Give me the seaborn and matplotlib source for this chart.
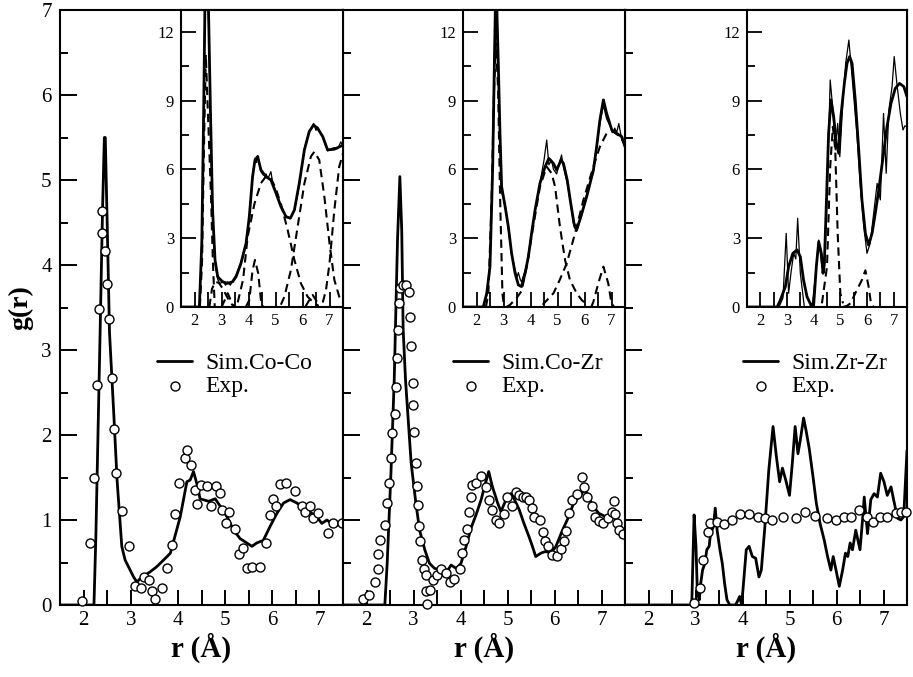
import numpy as np
import pandas as pd
import matplotlib
matplotlib.use("Agg")
import matplotlib.pyplot as plt
import seaborn as sns
from matplotlib.ticker import MultipleLocator

# ---- main panels : simulated lines and experimental circles ----
coco_sim_r = [1.5, 2.0, 2.22, 2.26, 2.29, 2.35, 2.40, 2.44, 2.46, 2.50, 2.55, 2.64, 2.71, 2.81, 2.88, 3.06,
              3.13, 3.2, 3.41, 3.55, 3.77, 3.84, 4.05, 4.19, 4.26, 4.33, 4.40, 4.47, 4.65, 4.79, 4.9, 5.04,
              5.18, 5.32, 5.46, 5.57, 5.67, 5.81, 5.95, 6.1, 6.24, 6.38, 6.52, 6.73, 6.94, 7.05, 7.16, 7.3, 7.5]
coco_sim_g = [0, 0, 0, 0.8, 1.6, 3.2, 4.6, 5.5, 5.5, 4.5, 3.2, 2.25, 1.47, 0.69, 0.53, 0.33,
              0.27, 0.31, 0.39, 0.45, 0.57, 0.61, 1.04, 1.45, 1.47, 1.57, 1.43, 1.25, 1.22, 1.25, 1.16, 1.04,
              0.88, 0.78, 0.73, 0.69, 0.73, 0.76, 0.92, 1.08, 1.20, 1.24, 1.2, 1.12, 1.04, 0.96, 1.0, 0.94, 0.95]
coco_exp_r = [1.96, 2.14, 2.23, 2.28, 2.32, 2.38, 2.40, 2.46, 2.50, 2.53, 2.6, 2.65, 2.68, 2.81, 2.97, 3.09,
              3.21, 3.29, 3.39, 3.46, 3.52, 3.67, 3.77, 3.87, 3.93, 4.03, 4.14, 4.2, 4.27, 4.37, 4.40, 4.49,
              4.61, 4.70, 4.80, 4.9, 4.94, 5.02, 5.09, 5.21, 5.30, 5.39, 5.47, 5.58, 5.74, 5.87, 5.95, 6.01,
              6.07, 6.17, 6.29, 6.48, 6.63, 6.7, 6.79, 6.87, 6.98, 7.19, 7.28, 7.47]
coco_exp_g = [0.05, 0.73, 1.49, 2.59, 3.48, 4.38, 4.63, 4.17, 3.78, 3.37, 2.67, 2.07, 1.55, 1.11, 0.69, 0.22,
              0.20, 0.33, 0.30, 0.16, 0.07, 0.20, 0.43, 0.71, 1.07, 1.43, 1.73, 1.82, 1.65, 1.35, 1.19, 1.41,
              1.40, 1.17, 1.40, 1.32, 1.12, 0.97, 1.10, 0.89, 0.60, 0.67, 0.43, 0.45, 0.45, 0.73, 1.06, 1.25,
              1.16, 1.42, 1.44, 1.34, 1.17, 1.09, 1.17, 1.02, 1.08, 0.85, 0.97, 0.97]

cozr_sim_r = [1.5, 2.0, 2.39, 2.44, 2.52, 2.59, 2.66, 2.71, 2.75, 2.78, 2.83, 2.95, 3.05, 3.13, 3.24, 3.34,
              3.45, 3.62, 3.73, 3.8, 3.91, 4.01, 4.12, 4.22, 4.33, 4.44, 4.51, 4.6, 4.68, 4.79, 4.86, 4.97,
              5.07, 5.14, 5.25, 5.35, 5.46, 5.53, 5.6, 5.71, 5.81, 5.92, 6.03, 6.17, 6.27, 6.41, 6.52, 6.63,
              6.7, 6.8, 6.94, 7.08, 7.23, 7.37, 7.5]
cozr_sim_g = [0, 0, 0, 0.49, 1.55, 2.65, 4.3, 5.04, 4.4, 3.24, 2.65, 1.67, 1.2, 0.88, 0.65, 0.49,
              0.43, 0.41, 0.41, 0.47, 0.43, 0.49, 0.69, 0.9, 1.06, 1.24, 1.39, 1.57, 1.39, 1.2, 1.1, 1.24,
              1.31, 1.25, 1.12, 0.96, 0.80, 0.69, 0.57, 0.61, 0.63, 0.61, 0.69, 0.88, 1.0, 1.2, 1.27, 1.35,
              1.31, 1.18, 1.08, 1.04, 1.06, 0.96, 0.84]
cozr_exp_r = [1.92, 2.06, 2.18, 2.25, 2.25, 2.28, 2.39, 2.44, 2.47, 2.52, 2.55, 2.6, 2.62, 2.65, 2.67, 2.69,
              2.71, 2.77, 2.83, 2.90, 2.93, 2.95, 2.99, 2.99, 3.02, 3.05, 3.07, 3.09, 3.12, 3.14, 3.19, 3.22,
              3.26, 3.27, 3.29, 3.36, 3.41, 3.5, 3.59, 3.69, 3.77, 3.87, 3.98, 4.03, 4.08, 4.13, 4.19, 4.22,
              4.24, 4.33, 4.44, 4.54, 4.61, 4.68, 4.75, 4.82, 4.93, 4.98, 5.09, 5.18, 5.25, 5.34, 5.39, 5.46,
              5.52, 5.57, 5.69, 5.76, 5.8, 5.87, 5.95, 6.06, 6.13, 6.2, 6.25, 6.31, 6.38, 6.48, 6.58, 6.63,
              6.7, 6.8, 6.87, 6.94, 7.03, 7.14, 7.23, 7.26, 7.28, 7.33, 7.37, 7.45]
cozr_exp_g = [0.07, 0.12, 0.27, 0.42, 0.6, 0.77, 0.94, 1.2, 1.44, 1.73, 2.02, 2.25, 2.56, 2.91, 3.24, 3.55,
              3.73, 3.76, 3.77, 3.68, 3.39, 3.05, 2.61, 2.35, 2.04, 1.67, 1.4, 1.18, 0.93, 0.75, 0.53, 0.42,
              0.35, 0.16, 0.01, 0.18, 0.3, 0.35, 0.42, 0.38, 0.27, 0.31, 0.42, 0.61, 0.76, 0.9, 1.1, 1.27,
              1.41, 1.44, 1.52, 1.39, 1.24, 1.12, 1.0, 0.97, 1.07, 1.27, 1.17, 1.33, 1.29, 1.27, 1.27, 1.24,
              1.14, 1.03, 1.0, 0.86, 0.75, 0.69, 0.59, 0.58, 0.66, 0.75, 0.87, 1.08, 1.24, 1.31, 1.51, 1.39,
              1.27, 1.16, 1.04, 0.99, 0.97, 1.02, 1.09, 1.22, 1.07, 0.97, 0.88, 0.84]

zrzr_sim_r = [1.5, 2.85, 2.92, 2.97, 3.01, 3.04, 3.08, 3.11, 3.15, 3.2, 3.24, 3.29, 3.32, 3.38, 3.42, 3.46,
              3.52, 3.57, 3.62, 3.67, 3.73, 3.85, 3.89, 3.94, 3.98, 4.01, 4.08, 4.14, 4.21, 4.28, 4.35, 4.4,
              4.47, 4.56, 4.65, 4.72, 4.79, 4.85, 4.92, 5.0, 5.06, 5.12, 5.18, 5.23, 5.3, 5.35, 5.42, 5.5,
              5.57, 5.65, 5.74, 5.81, 5.88, 5.93, 5.99, 6.06, 6.13, 6.19, 6.24, 6.29, 6.34, 6.41, 6.5, 6.56,
              6.59, 6.66, 6.73, 6.8, 6.87, 6.94, 7.01, 7.08, 7.16, 7.23, 7.3, 7.37, 7.43, 7.5]
zrzr_sim_g = [0, 0, 0, 1.06, 0.69, 0.14, 0.06, 0.25, 0.41, 0.49, 0.65, 0.69, 0.84, 0.92, 1.14, 0.88,
              0.65, 0.49, 0.25, 0.06, 0, 0, 0.04, 0.1, 0, 0.18, 0.65, 0.69, 0.57, 0.55, 0.33, 0.41,
              0.88, 1.59, 2.1, 1.75, 1.45, 1.61, 1.47, 1.29, 1.67, 2.1, 1.78, 1.94, 2.2, 2.06, 1.84, 1.51,
              1.2, 0.96, 0.76, 0.57, 0.41, 0.57, 0.41, 0.22, 0.41, 0.61, 0.57, 0.73, 0.65, 0.88, 0.65, 1.04,
              1.27, 0.84, 1.24, 1.31, 1.27, 1.55, 1.45, 1.29, 1.39, 1.2, 1.02, 1.0, 1.04, 1.82]
zrzr_exp_r = [2.97, 3.09, 3.17, 3.27, 3.31, 3.46, 3.61, 3.77, 3.94, 4.14, 4.33, 4.47, 4.63, 4.86, 5.14,
              5.33, 5.55, 5.79, 5.99, 6.15, 6.31, 6.48, 6.64, 6.77, 6.92, 7.08, 7.26, 7.37, 7.47]
zrzr_exp_g = [0.02, 0.2, 0.53, 0.86, 0.96, 0.98, 0.95, 1.0, 1.07, 1.07, 1.04, 1.02, 1.0, 1.04, 1.02,
              1.09, 1.05, 1.02, 1.0, 1.04, 1.04, 1.12, 1.04, 0.98, 1.04, 1.04, 1.08, 1.1, 1.1]

# ---- insets : thick line, thin line, dashed components ----
coco_in_r = [1.5, 2.18, 2.27, 2.34, 2.39, 2.45, 2.51, 2.59, 2.67, 2.76, 2.86, 3.04, 3.23, 3.41, 3.54, 3.72,
             3.91, 4.03, 4.15, 4.24, 4.34, 4.46, 4.65, 4.83, 5.02, 5.2, 5.39, 5.55, 5.7, 5.88, 6.07, 6.25,
             6.41, 6.56, 6.75, 6.93, 7.18, 7.5]
coco_in_g = [0, 0, 2.78, 8.6, 13.5, 15.5, 13.5, 8.6, 4.23, 2.05, 1.32, 1.1, 1.03, 1.1, 1.32, 1.9,
             2.78, 3.94, 5.68, 6.41, 6.56, 5.97, 5.68, 5.54, 4.96, 4.38, 3.94, 3.87, 4.23, 5.39, 6.85, 7.65,
             7.94, 7.79, 7.43, 6.85, 6.88, 7.06]
coco_thin_r = [1.5, 2.18, 2.27, 2.34, 2.39, 2.45, 2.51, 2.59, 2.67, 2.76, 2.86, 2.95, 3.04, 3.15, 3.23, 3.33,
               3.41, 3.54, 3.72, 3.91, 4.03, 4.15, 4.24, 4.30, 4.34, 4.46, 4.55, 4.65, 4.72, 4.83, 4.90, 5.02,
               5.2, 5.39, 5.55, 5.7, 5.88, 6.07, 6.25, 6.35, 6.41, 6.50, 6.56, 6.75, 6.93, 7.05, 7.18, 7.30,
               7.42, 7.5]
coco_thin_g = [0, 0, 2.9, 8.8, 13.5, 15, 13, 8.4, 4.0, 1.9, 1.2, 1.0, 1.15, 0.95, 1.1, 0.95,
               1.15, 1.4, 1.95, 2.8, 3.9, 5.6, 6.5, 6.3, 6.6, 5.9, 5.75, 5.8, 5.6, 5.9, 5.4, 5.0,
               4.4, 3.9, 3.9, 4.2, 5.3, 6.9, 7.7, 7.8, 8.0, 7.7, 7.85, 7.4, 6.8, 6.9, 6.95, 6.9,
               7.2, 7.0]
coco_dash = [
    ([2.2, 2.28, 2.35, 2.42, 2.48, 2.55, 2.62, 2.68, 2.75], [0, 2, 7, 11, 9, 6.8, 4.5, 2, 0]),
    ([2.55, 2.65, 2.78, 2.9, 3.05, 3.2, 3.35, 3.5], [0, 0.8, 1.1, 1.05, 0.8, 0.45, 0.15, 0]),
    ([3.0, 3.12, 3.23, 3.34, 3.45], [0, 0.3, 0.6, 0.3, 0]),
    ([3.9, 4.03, 4.15, 4.24, 4.36, 4.46, 4.55], [0, 0.3, 1.6, 2.05, 1.47, 0.3, 0]),
    ([3.6, 3.8, 3.97, 4.22, 4.46, 4.65, 4.83, 5.0, 5.2, 5.45, 5.7, 5.94, 6.19, 6.44, 6.6],
     [0.2, 1.2, 3.07, 4.5, 5.4, 5.7, 5.6, 5.2, 4.5, 3.36, 2.05, 1.03, 0.45, 0.16, 0.05]),
    ([5.2, 5.33, 5.57, 5.82, 6.07, 6.31, 6.44, 6.62, 6.81, 7.0, 7.18, 7.36, 7.5],
     [0.1, 0.45, 1.61, 3.5, 5.39, 6.56, 6.77, 6.41, 4.81, 2.78, 1.18, 0.45, 0.2]),
    ([6.1, 6.25, 6.38, 6.5, 6.62], [0, 0.3, 0.52, 0.3, 0]),
    ([6.75, 6.87, 7.0, 7.18, 7.36, 7.5], [0.2, 0.74, 1.9, 4.23, 6.12, 6.7]),
]

cozr_in_r = [1.5, 2.25, 2.38, 2.5, 2.6, 2.66, 2.72, 2.81, 2.87, 2.93, 3.06, 3.18, 3.3, 3.43, 3.55, 3.67,
             3.8, 3.92, 4.04, 4.17, 4.35, 4.54, 4.68, 4.85, 4.97, 5.13, 5.22, 5.36, 5.49, 5.61, 5.71, 5.9,
             6.08, 6.33, 6.45, 6.57, 6.7, 6.82, 7.01, 7.19, 7.38, 7.5]
cozr_in_g = [0, 0, 0.6, 1.76, 6.12, 10.5, 14.5, 10.5, 7.57, 5.25, 4.38, 3.5, 2.34, 1.47, 0.96, 0.89,
             1.47, 2.19, 3.21, 4.23, 5.39, 6.12, 6.48, 6.26, 5.97, 6.41, 6.26, 5.54, 4.52, 3.65, 3.36, 4.08,
             4.81, 5.97, 6.99, 8.15, 9.03, 8.44, 7.72, 7.57, 7.43, 6.99]
cozr_thin_r = [1.5, 2.25, 2.38, 2.5, 2.6, 2.66, 2.72, 2.81, 2.87, 2.93, 3.06, 3.18, 3.3, 3.43, 3.5, 3.55,
               3.62, 3.67, 3.8, 3.92, 4.04, 4.17, 4.35, 4.5, 4.6, 4.68, 4.78, 4.85, 4.97, 5.05, 5.15, 5.22,
               5.36, 5.49, 5.61, 5.71, 5.9, 6.08, 6.33, 6.45, 6.57, 6.7, 6.82, 6.95, 7.05, 7.12, 7.19, 7.27,
               7.38, 7.5]
cozr_thin_g = [0, 0, 0.5, 1.9, 6.3, 10.8, 14, 10.2, 7.3, 5.0, 4.5, 3.4, 2.3, 1.6, 1.3, 1.5,
               1.2, 1.1, 1.6, 2.1, 3.3, 4.2, 5.4, 6.4, 7.28, 6.2, 6.4, 6.0, 5.8, 6.2, 6.63, 6.1,
               5.4, 4.5, 3.5, 3.3, 4.0, 4.9, 5.9, 7.0, 8.0, 8.8, 8.2, 7.9, 7.6, 7.8, 7.6, 8.0,
               7.3, 7.1]
cozr_dash = [
    ([2.35, 2.44, 2.56, 2.65, 2.72, 2.8, 2.87, 2.96, 3.02], [0, 0.6, 4.67, 9.5, 11.5, 9.5, 4.96, 0.6, 0]),
    ([3.1, 3.24, 3.49, 3.67, 3.86, 4.1, 4.35, 4.6, 4.78, 4.91, 5.09, 5.28, 5.46, 5.71, 5.9, 6.1],
     [0, 0.09, 0.4, 0.7, 1.76, 3.5, 5.25, 6.12, 5.83, 5.25, 3.5, 2.05, 1.18, 0.6, 0.3, 0.1]),
    ([4.45, 4.85, 5.09, 5.34, 5.65, 5.96, 6.33, 6.57, 6.82, 7.07, 7.31, 7.5],
     [0.1, 0.6, 1.2, 1.9, 3.21, 4.67, 6.12, 6.99, 7.57, 7.65, 7.43, 7.1]),
    ([6.25, 6.33, 6.51, 6.7, 6.88, 7.0, 7.1], [0, 0.23, 1.03, 1.76, 1.03, 0.16, 0]),
]

zrzr_in_r = [1.5, 2.63, 2.75, 2.94, 3.06, 3.22, 3.38, 3.5, 3.62, 3.75, 3.88, 4.0, 4.1, 4.19, 4.29, 4.35,
             4.4, 4.48, 4.56, 4.65, 4.75, 4.85, 4.94, 5.02, 5.15, 5.25, 5.35, 5.44, 5.56, 5.69, 5.81, 5.94,
             6.06, 6.19, 6.31, 6.44, 6.62, 6.75, 6.9, 7.06, 7.22, 7.38, 7.5]
zrzr_in_g = [0, 0, 0.3, 0.89, 1.76, 2.34, 2.49, 2.19, 1.18, 0.45, 0.13, 0.09, 1.76, 2.85, 2.34, 1.47,
             1.9, 4.67, 7.57, 9.03, 8.3, 7.14, 6.7, 8.3, 9.75, 10.62, 10.92, 10.62, 9.03, 6.85, 4.67, 3.21,
             2.7, 3.21, 4.08, 5.1, 6.7, 7.86, 8.88, 9.53, 9.75, 9.61, 9.17]
zrzr_thin_r = [1.5, 2.7, 2.85, 2.97, 3.06, 3.15, 3.25, 3.33, 3.4, 3.5, 3.65, 3.8, 3.95, 4.05, 4.19, 4.31,
               4.4, 4.5, 4.62, 4.72, 4.81, 4.9, 4.98, 5.1, 5.2, 5.32, 5.44, 5.62, 5.75, 5.88, 6.0, 6.12,
               6.25, 6.38, 6.5, 6.62, 6.72, 6.82, 6.94, 7.02, 7.12, 7.25, 7.35, 7.42, 7.5]
zrzr_thin_g = [0, 0, 0.4, 3.21, 0.6, 1.5, 2.34, 2.1, 3.87, 1.47, 0, 0, 0.1, 1.2, 2.92, 1.76,
               1.5, 4.67, 9.9, 8.6, 6.85, 8.0, 6.55, 9.03, 10.62, 11.64, 10.04, 7.57, 5.25, 3.5, 2.34, 2.78,
               4.08, 5.39, 4.67, 8.44, 5.83, 8.59, 9.61, 10.92, 9.75, 8.44, 7.72, 7.9, 7.86]
zrzr_dash = [
    ([4.31, 4.5, 4.62, 4.72, 4.81, 4.9, 5.0, 5.1], [0.16, 1.76, 6.12, 7.86, 6.85, 3.21, 0.6, 0.16]),
    ([5.1, 5.25, 5.38, 5.62, 5.81, 5.94, 6.06, 6.15, 6.25], [0, 0.05, 0.16, 0.74, 1.18, 1.6, 0.89, 0.16, 0]),
]

labels = ["Sim.Co-Co", "Sim.Co-Zr", "Sim.Zr-Zr"]
legend_x = [0.343, 0.39, 0.418]

sns.set_style("ticks")
plt.rcParams["font.family"] = ["Liberation Serif", "DejaVu Serif"]
for key in ["text.color", "axes.labelcolor", "xtick.color", "ytick.color", "axes.edgecolor"]:
    plt.rcParams[key] = "black"

W, H = 913, 677
def box(l, t, r, b):
    return [l / W, 1 - b / H, (r - l) / W, (b - t) / H]

fig = plt.figure(figsize=(9.13, 6.77), dpi=100)
main_boxes = [box(60, 10, 343, 605), box(343, 10, 625, 605), box(625, 10, 907, 605)]
inset_boxes = [box(181, 10, 343, 307), box(463, 10, 625, 307), box(747, 10, 907, 307)]

sims = [(coco_sim_r, coco_sim_g), (cozr_sim_r, cozr_sim_g), (zrzr_sim_r, zrzr_sim_g)]
exps = [(coco_exp_r, coco_exp_g), (cozr_exp_r, cozr_exp_g), (zrzr_exp_r, zrzr_exp_g)]
thick = [(coco_in_r, coco_in_g), (cozr_in_r, cozr_in_g), (zrzr_in_r, zrzr_in_g)]
thin = [(coco_thin_r, coco_thin_g), (cozr_thin_r, cozr_thin_g), (zrzr_thin_r, zrzr_thin_g)]
dashed = [coco_dash, cozr_dash, zrzr_dash]

mains = [fig.add_axes(b) for b in main_boxes]
for i, ax in enumerate(mains):
    sim = pd.DataFrame({"r": sims[i][0], "g": sims[i][1]})
    exp = pd.DataFrame({"r": exps[i][0], "g": exps[i][1]})
    sns.lineplot(data=sim, x="r", y="g", ax=ax, color="black", lw=2.0, estimator=None, sort=False,
                 label=labels[i])
    sns.scatterplot(data=exp, x="r", y="g", ax=ax, marker="o", s=42, facecolor="white",
                    edgecolor="black", linewidth=1.0, label="Exp.", zorder=3, clip_on=False)
    ax.set_xlim(1.5, 7.5)
    ax.set_ylim(0, 7)
    ax.xaxis.set_major_locator(MultipleLocator(1))
    ax.xaxis.set_minor_locator(MultipleLocator(0.5))
    ax.yaxis.set_major_locator(MultipleLocator(1))
    ax.yaxis.set_minor_locator(MultipleLocator(0.5))
    ax.tick_params(axis="x", which="both", direction="in", length=11, width=1.4, labelsize=15, pad=4)
    ax.tick_params(axis="y", which="major", direction="in", length=12, width=1.4, labelsize=15, pad=6)
    ax.tick_params(axis="y", which="minor", direction="in", length=6, width=1.4)
    for s in ax.spines.values():
        s.set_linewidth(1.5)
    ax.set_xlabel("r (Å)", fontsize=21, fontweight="bold", labelpad=2)
    if i == 0:
        ax.set_ylabel("g(r)", fontsize=20, fontweight="bold", labelpad=6)
    else:
        ax.set_ylabel("")
        ax.tick_params(axis="y", labelleft=False)
    ax.legend(loc="upper left", bbox_to_anchor=(legend_x[i], 0.424), frameon=False, fontsize=17,
              handlelength=1.5, handletextpad=0.55, labelspacing=0.05, borderpad=0, borderaxespad=0)

for i, b in enumerate(inset_boxes):
    ins = fig.add_axes(b)
    ins.set_facecolor("white")
    for r, g in dashed[i]:
        sns.lineplot(x=r, y=g, ax=ins, color="black", lw=1.5, linestyle=(0, (4, 2.5)),
                     estimator=None, sort=False)
    sns.lineplot(x=thin[i][0], y=thin[i][1], ax=ins, color="black", lw=0.9, estimator=None, sort=False)
    sns.lineplot(x=thick[i][0], y=thick[i][1], ax=ins, color="black", lw=2.0, estimator=None, sort=False)
    ins.set_xlim(1.5, 7.5)
    ins.set_ylim(0, 12.95)
    ins.xaxis.set_major_locator(MultipleLocator(1))
    ins.xaxis.set_minor_locator(MultipleLocator(0.5))
    ins.yaxis.set_major_locator(MultipleLocator(3))
    ins.yaxis.set_minor_locator(MultipleLocator(1.5))
    ins.tick_params(axis="x", which="both", direction="in", length=11, width=1.3, labelsize=12, pad=4)
    ins.tick_params(axis="y", which="major", direction="in", length=11, width=1.3, labelsize=12, pad=5)
    ins.tick_params(axis="y", which="minor", direction="in", length=6, width=1.3)
    for s in ins.spines.values():
        s.set_linewidth(1.5)
    ins.set_xlabel("")
    ins.set_ylabel("")

fig.savefig("out.png", dpi=100)
